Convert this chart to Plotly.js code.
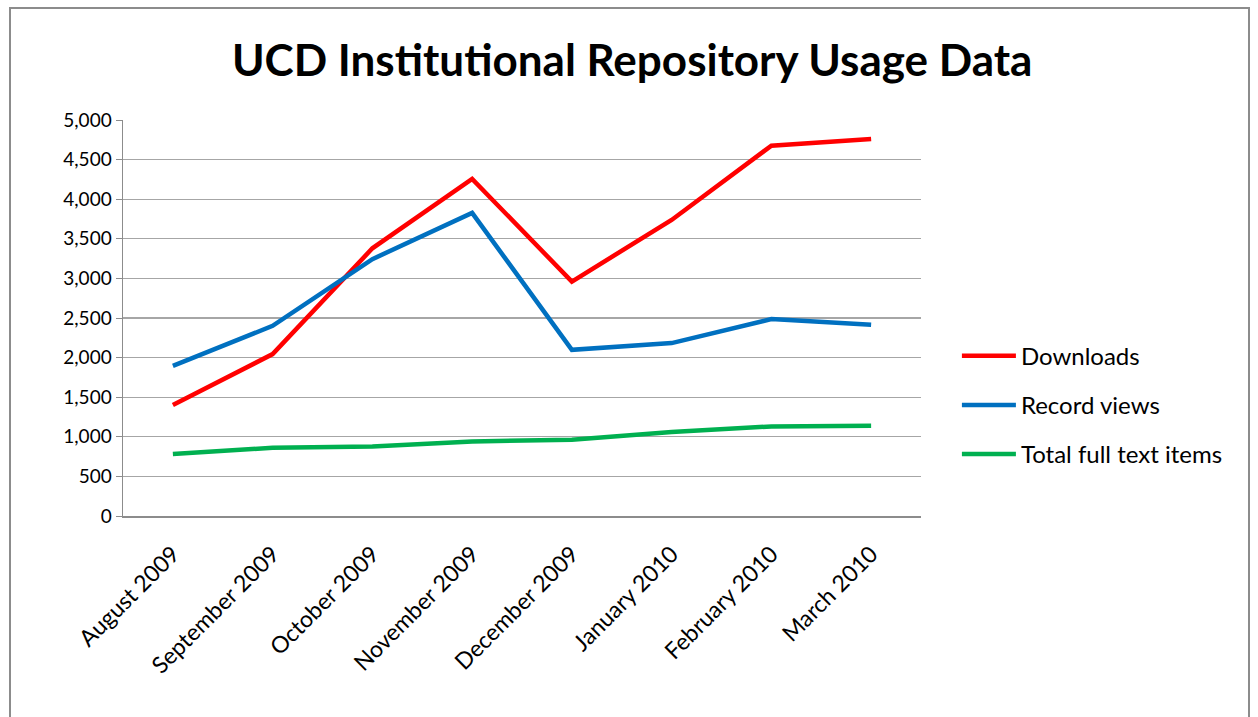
<!DOCTYPE html>
<html><head><meta charset="utf-8">
<script src="https://cdn.plot.ly/plotly-3.0.1.min.js"></script>
<style>
html,body{margin:0;padding:0;background:#fff;overflow:hidden;}
#frame{position:absolute;left:9px;top:7px;width:1241px;height:730px;border:2px solid #8c8c8c;box-sizing:border-box;pointer-events:none;z-index:5;}
#chart{width:1258px;height:717px;}
</style></head><body>
<div id="frame"></div>
<div id="chart"></div>
<script>
const months = ["August 2009","September 2009","October 2009","November 2009","December 2009","January 2010","February 2010","March 2010"];
const downloads = [1400, 2044, 3380, 4256, 2960, 3738, 4676, 4760];
const recordViews = [1896, 2401, 3243, 3827, 2098, 2183, 2486, 2414];
const fullTextItems = [782, 862, 878, 941, 963, 1060, 1131, 1139];
const seriesNames = ["Downloads","Record views","Total full text items"];
const seriesColors = ["#ff0000","#0070c0","#00b050"];
const yTicks = [0,500,1000,1500,2000,2500,3000,3500,4000,4500,5000];

const font = "Lato, 'Open Sans', sans-serif";
const values = [downloads, recordViews, fullTextItems];
const traces = values.map((v,i)=>({
  type:'scatter', mode:'lines', x:months, y:v, name:seriesNames[i],
  legendgroup:'g'+i,
  line:{color:seriesColors[i], width:4.5}
}));

const layout = {
  width:1258, height:717,
  margin:{l:123, r:337, t:120, b:201},
  paper_bgcolor:'#fff', plot_bgcolor:'#fff',
  font:{family:font, size:18, color:'#000'},
  title:{text:'<b>UCD Institutional Repository Usage Data</b>', font:{family:font, size:44, color:'#000'}, x:0.5025, xref:'container', xanchor:'center', y:0.915, yref:'container', yanchor:'middle'},
  xaxis:{type:'category', tickangle:-45, showgrid:false, showline:true, linecolor:'#8c8c8c', linewidth:1.5,
         ticks:'', tickfont:{size:23}, ticklabelstandoff:14, range:[-0.5,7.5], fixedrange:true},
  yaxis:{range:[0,5000], tickvals:yTicks, ticktext:yTicks.map(v=>v.toLocaleString('en-US')), showgrid:true, gridcolor:'#a6a6a6', gridwidth:1.2,
         showline:true, linecolor:'#8c8c8c', linewidth:1.5, ticks:'outside', ticklen:6, tickcolor:'#8c8c8c', zeroline:false, tickfont:{size:19}, fixedrange:true},
  legend:{x:1.045, y:0.28, xanchor:'left', yanchor:'middle', font:{size:24}, itemwidth:54, tracegroupgap:15, bgcolor:'rgba(0,0,0,0)'},
  showlegend:true
};
Plotly.newPlot('chart', traces, layout, {displayModeBar:false, staticPlot:true});
</script></body></html>
